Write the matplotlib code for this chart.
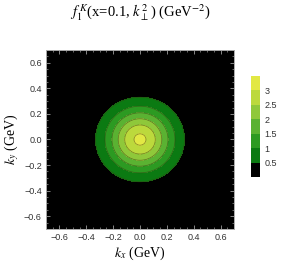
import numpy as np
import matplotlib
import matplotlib.pyplot as plt
from matplotlib.colors import ListedColormap, BoundaryNorm
from matplotlib.ticker import MultipleLocator

# values
peak = 3.1          # f at k = 0 (GeV^-2)
width = 0.06        # <k^2> of the gaussian (GeV^2)
levels = [0.5, 1, 1.5, 2, 2.5, 3]
colors = ['#000000', '#0b7a12', '#2c9a22', '#5ab232', '#8fc83a', '#bcd93c', '#e2e844', '#f7f552']
kx = np.linspace(-0.7, 0.7, 301)
ky = np.linspace(-0.7, 0.7, 301)

plt.rcParams['font.family'] = ['Liberation Serif', 'DejaVu Serif']
plt.rcParams['mathtext.fontset'] = 'stix'

KX, KY = np.meshgrid(kx, ky)
F = peak * np.exp(-(KX ** 2 + KY ** 2) / width)

bounds = [-1] + levels + [10]
cmap = ListedColormap(colors[:len(bounds) - 1])
norm = BoundaryNorm(bounds, cmap.N)

fig = plt.figure(figsize=(2.84, 2.66), dpi=100)
ax = fig.add_axes([46 / 284, 1 - 229 / 266, 188 / 284, 179 / 266])
cs = ax.contourf(KX, KY, F, levels=bounds, cmap=cmap, norm=norm)
ax.contour(KX, KY, F, levels=levels, colors='#3a3a10', linewidths=0.5, alpha=0.6)
ax.set_xlim(-0.7, 0.7)
ax.set_ylim(-0.7, 0.7)

ax.xaxis.set_major_locator(MultipleLocator(0.2))
ax.yaxis.set_major_locator(MultipleLocator(0.2))
ax.xaxis.set_minor_locator(MultipleLocator(0.05))
ax.yaxis.set_minor_locator(MultipleLocator(0.05))
ax.tick_params(which='both', direction='in', top=True, right=True, color='#bbbbbb',
               labelsize=6.5, labelcolor='#333333', pad=3)
ax.tick_params(which='major', length=3, width=0.5)
ax.tick_params(which='minor', length=1.5, width=0.4)
for lab in ax.get_xticklabels() + ax.get_yticklabels():
    lab.set_family('Liberation Sans')
fmt = lambda v, p: ('%.1f' % v).replace('-', '\u2212')
ax.xaxis.set_major_formatter(fmt)
ax.yaxis.set_major_formatter(fmt)
for s in ax.spines.values():
    s.set_color('#aaaaaa')
    s.set_linewidth(0.7)

ax.set_xlabel(r'$k_x$ (GeV)', fontsize=10, labelpad=2)
ax.set_ylabel(r'$k_y$ (GeV)', fontsize=10, labelpad=2)
fig.text(0.5 * (46 + 234) / 284, 1 - 13 / 266, r'$f_1^{\,K}$(x=0.1, $k_\perp^2$) (GeV$^{-2}$)',
         ha='center', va='center', fontsize=10.5)

cax = fig.add_axes([251 / 284, 1 - 177 / 266, 9 / 284, 101 / 266])
cb = fig.colorbar(cs, cax=cax, ticks=levels)
cb.set_ticklabels(['0.5', '1', '1.5', '2', '2.5', '3'])
cb.minorticks_off()
cb.ax.tick_params(which='both', length=0, labelsize=6.5, labelcolor='#333333', pad=3)
for lab in cb.ax.get_yticklabels():
    lab.set_family('Liberation Sans')
cb.outline.set_visible(False)

fig.savefig('out.png', dpi=100)
